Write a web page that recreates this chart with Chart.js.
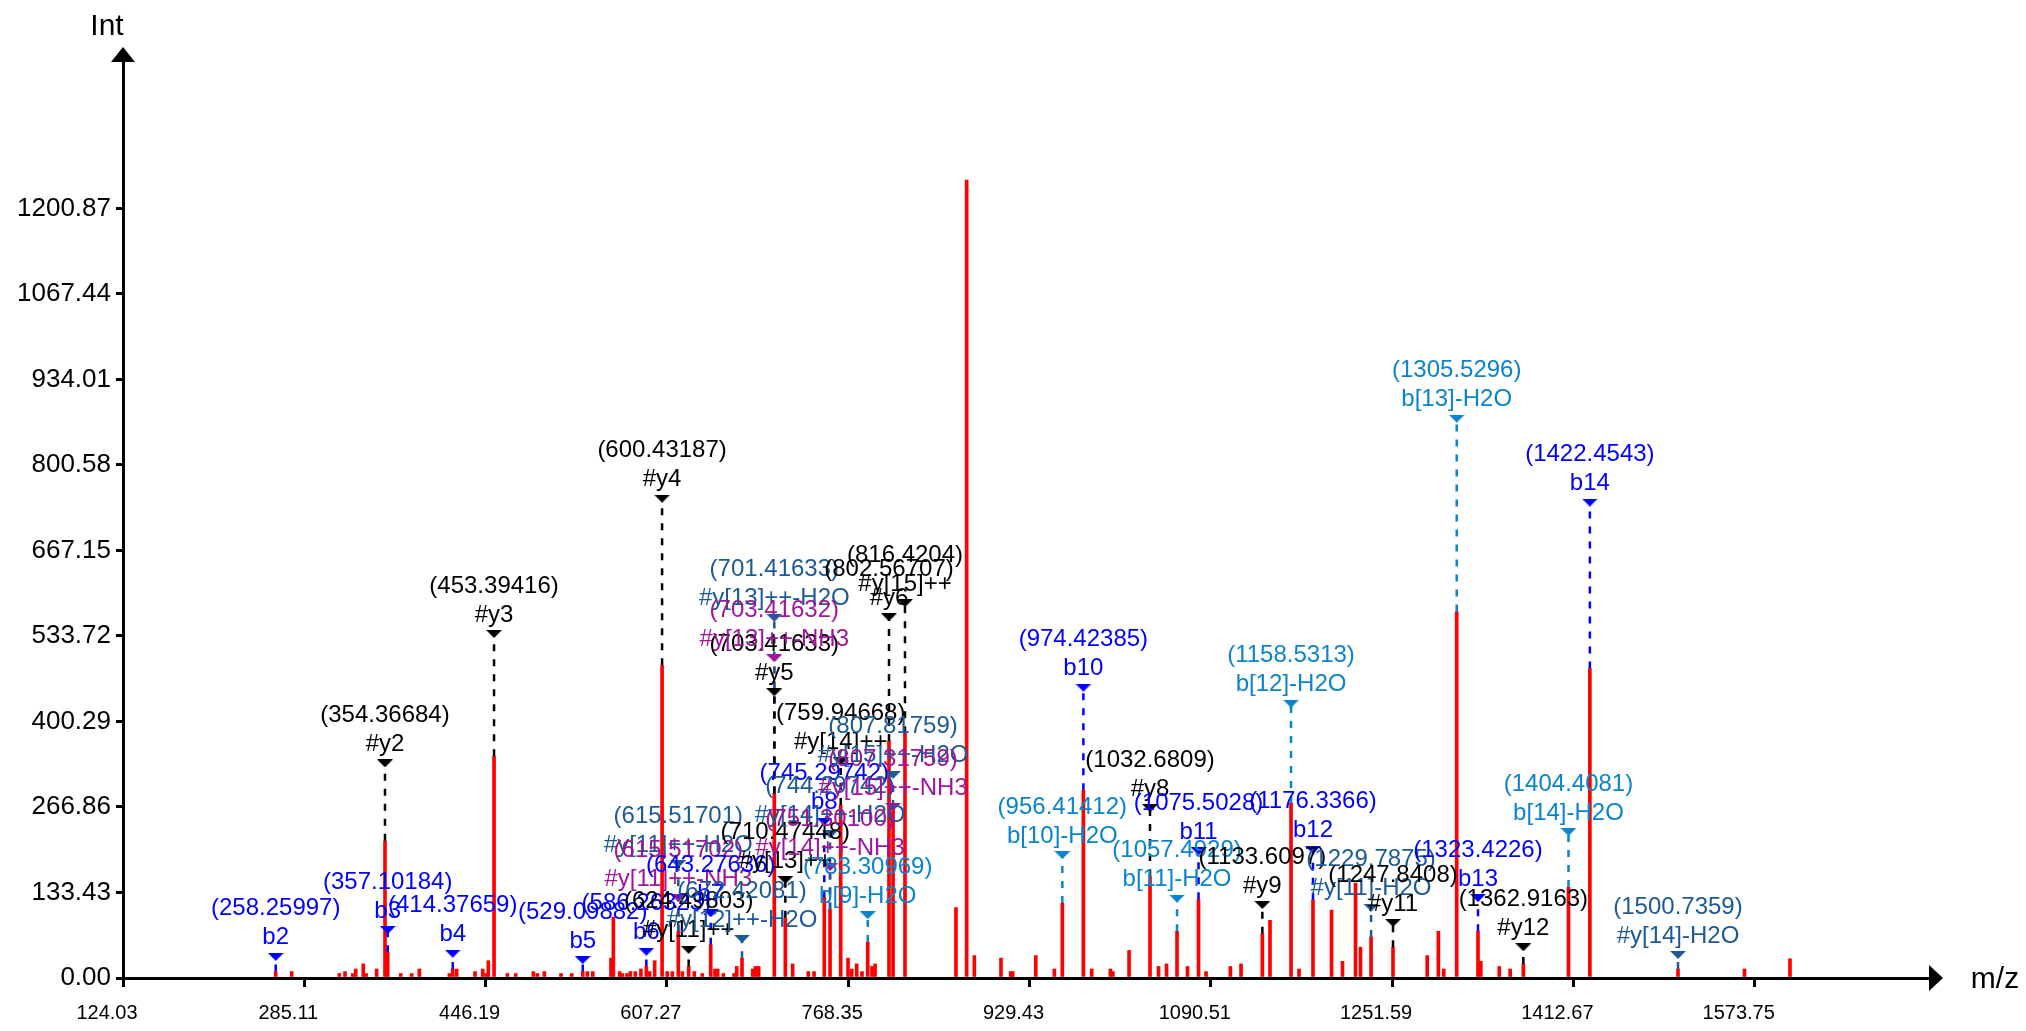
<!DOCTYPE html>
<html>
<head>
<meta charset="utf-8">
<script src="https://cdn.jsdelivr.net/npm/chart.js@4/dist/chart.umd.min.js"></script>
<style>
html, body { margin: 0; padding: 0; background: #fff; }
#wrap { width: 2026px; height: 1031px; }
</style>
</head>
<body>
<div id="wrap"><canvas id="spectrum" width="2026" height="1031"></canvas></div>
<script>
// peaks: m/z and intensity
const peakMz = [259.7, 273.9, 316.2, 321.3, 328.1, 330.8, 337.5, 340.0, 349.4, 356.8, 359.2, 370.8, 380.5, 387.3,
  414.0, 417.0, 420.5, 436.8, 443.6, 446.6, 448.6, 453.7, 465.5, 472.9, 488.6, 492.1, 498.4, 513.2, 522.7, 532.5,
  536.6, 541.4, 557.6, 559.7, 565.3, 567.7, 571.8, 574.8, 579.2, 584.2, 589.0, 591.9, 596.4, 603.0, 607.6, 612.1,
  617.4, 621.0, 626.6, 631.6, 638.7, 646.2, 650.0, 652.4, 657.4, 666.9, 669.3, 674.0, 683.5, 685.9, 688.8, 702.7,
  712.5, 719.0, 732.9, 738.0, 747.1, 752.2, 761.7, 768.2, 771.5, 775.9, 780.6, 785.7, 789.5, 792.2, 804.6, 808.2,
  818.8, 864.1, 873.6, 880.4, 904.1, 912.7, 914.5, 935.0, 951.5, 958.6, 977.3, 984.7, 1001.3, 1003.5, 1017.9,
  1036.5, 1044.1, 1051.2, 1060.5, 1069.8, 1079.6, 1086.3, 1107.9, 1117.4, 1136.3, 1143.1, 1161.8, 1168.9, 1181.3,
  1197.8, 1207.5, 1219.1, 1223.5, 1232.9, 1252.4, 1282.8, 1292.7, 1297.5, 1309.0, 1327.9, 1330.4, 1346.8, 1356.5,
  1368.2, 1408.3, 1427.3, 1505.6, 1564.7, 1605.1];
const peakInt = [10, 10, 7, 10, 7, 14, 22, 7, 14, 214, 40, 7, 7, 14,
  7, 14, 14, 10, 14, 7, 27, 346, 7, 7, 10, 7, 10, 7, 7, 10,
  10, 10, 31, 95, 10, 7, 7, 10, 10, 14, 18, 10, 27, 488, 10, 10,
  73, 10, 18, 10, 7, 52, 14, 14, 7, 7, 18, 31, 14, 18, 18, 288,
  94, 22, 10, 10, 126, 107, 270, 31, 14, 22, 10, 56, 18, 22, 370, 267,
  382, 110, 1245, 35, 31, 10, 10, 35, 14, 117, 293, 14, 14, 10, 43,
  159, 18, 22, 73, 18, 123, 10, 18, 22, 69, 90, 273, 14, 122,
  106, 26, 148, 48, 64, 48, 35, 73, 14, 572, 73, 26, 18, 14,
  22, 142, 483, 14, 14, 30];

const xTicks = [124.03, 285.11, 446.19, 607.27, 768.35, 929.43, 1090.51, 1251.59, 1412.67, 1573.75];
const yTicks = [0, 133.43, 266.86, 400.29, 533.72, 667.15, 800.58, 934.01, 1067.44, 1200.87];

// fragment labels: peak they point at, m/z text, ion name, colour key, marker height
const annPeak = [259.7, 359.2, 356.8, 417.0, 453.7, 532.5, 589.0, 603.0, 626.6, 617.4, 617.4, 646.2, 674.0,
  702.7, 702.7, 702.7, 712.5, 747.1, 752.2, 752.2, 761.7, 785.7, 804.6, 808.2, 808.2, 818.8,
  958.6, 977.3, 1036.5, 1060.5, 1079.6, 1136.3, 1161.8, 1181.3, 1232.9, 1252.4, 1309.0, 1327.9, 1368.2,
  1408.3, 1427.3, 1505.6];
const annMzText = ["(258.25997)", "(357.10184)", "(354.36684)", "(414.37659)", "(453.39416)", "(529.09882)",
  "(586.26323)", "(600.43187)", "(624.49803)", "(615.51701)", "(615.51702)", "(643.27636)", "(672.42081)",
  "(703.41633)", "(701.41633)", "(703.41632)", "(710.47448)", "(745.29742)", "(744.29742)", "(751.30100)",
  "(759.94668)", "(783.30969)", "(802.56707)", "(807.81759)", "(807.31759)", "(816.4204)",
  "(956.41412)", "(974.42385)", "(1032.6809)", "(1057.4929)", "(1075.5028)", "(1133.6097)", "(1158.5313)",
  "(1176.3366)", "(1229.7875)", "(1247.8408)", "(1305.5296)", "(1323.4226)", "(1362.9163)",
  "(1404.4081)", "(1422.4543)", "(1500.7359)"];
const annIon = ["b2", "b3", "#y2", "b4", "#y3", "b5", "b6", "#y4", "#y[11]++", "#y[11]++-H2O", "#y[11]++-NH3",
  "b7", "#y[12]++-H2O", "#y5", "#y[13]++-H2O", "#y[13]++-NH3", "#y[13]++", "b8", "#y[14]++-H2O",
  "#y[14]++-NH3", "#y[14]++", "b[9]-H2O", "#y6", "#y[15]++-H2O", "#y[15]++-NH3", "#y[15]++",
  "b[10]-H2O", "b10", "#y8", "b[11]-H2O", "b11", "#y9", "b[12]-H2O", "b12", "#y[11]-H2O", "#y11",
  "b[13]-H2O", "b13", "#y12", "b[14]-H2O", "b14", "#y[14]-H2O"];
const annColor = ["b", "b", "k", "b", "k", "b", "b", "k", "k", "db", "m", "b", "db",
  "k", "db", "m", "k", "b", "db", "m", "k", "lb", "k", "db", "m", "k",
  "lb", "b", "k", "lb", "b", "k", "lb", "b", "db", "k", "lb", "b", "k", "lb", "b", "db"];
const annMarker = [33, 75, 335, 38, 537, 28, 41, 748, 44, 178, 125, 101, 61,
  446, 562, 499, 153, 244, 224, 173, 338, 98, 563, 317, 267, 585,
  192, 453, 265, 124, 198, 114, 428, 200, 110, 86, 873, 125, 48, 228, 742, 36];

const ionColors = { k: "#000000", b: "#0000ff", lb: "#0a84cc", db: "#1b5a96", m: "#a0159e" };
const FONT = "'Liberation Sans', Arial, sans-serif";

function heightAt(mz) {
    var i = peakMz.indexOf(mz);
    return i >= 0 ? peakInt[i] : 0;
}

// little flat down-pointing triangle used as point style
function triangle(color) {
    var c = document.createElement("canvas");
    c.width = 16;
    c.height = 8;
    var g = c.getContext("2d");
    g.fillStyle = color;
    g.beginPath();
    g.moveTo(0, 0);
    g.lineTo(16, 0);
    g.lineTo(8, 8);
    g.closePath();
    g.fill();
    return c;
}

const datasets = [{
    type: "bar",
    label: "peaks",
    data: peakMz.map((m, i) => ({ x: m, y: peakInt[i] })),
    backgroundColor: "#ff0000",
    barThickness: 3,
    grouped: false,
    order: 3
}];

Object.keys(ionColors).forEach(function (key) {
    var lines = [];
    var marks = [];
    for (var i = 0; i < annPeak.length; i++) {
        if (annColor[i] !== key) continue;
        lines.push({ x: annPeak[i], y: heightAt(annPeak[i]) });
        lines.push({ x: annPeak[i], y: annMarker[i] });
        lines.push({ x: annPeak[i], y: null });
        marks.push({ x: annPeak[i], y: annMarker[i] });
    }
    datasets.push({
        type: "line",
        data: lines,
        borderColor: ionColors[key],
        borderWidth: 2.5,
        borderDash: [7, 8],
        pointRadius: 0,
        spanGaps: false,
        order: 2
    });
    datasets.push({
        type: "scatter",
        data: marks,
        pointStyle: triangle(ionColors[key]),
        pointRadius: 8,
        order: 1
    });
});

const labelPlugin = {
    id: "ionLabels",
    afterDatasetsDraw(chart) {
        const ctx = chart.ctx;
        const xs = chart.scales.x, ys = chart.scales.y;
        ctx.save();
        ctx.font = "24px " + FONT;
        ctx.textAlign = "center";
        ctx.textBaseline = "middle";
        for (var i = 0; i < annPeak.length; i++) {
            var px = xs.getPixelForValue(annPeak[i]);
            var py = ys.getPixelForValue(annMarker[i]);
            ctx.fillStyle = ionColors[annColor[i]];
            ctx.fillText(annIon[i], px, py - 19);
            ctx.fillText(annMzText[i], px, py - 48);
        }
        ctx.restore();
    },
    afterDraw(chart) {
        const ctx = chart.ctx;
        const a = chart.chartArea;
        ctx.save();
        ctx.fillStyle = "#000";
        // arrow heads on both axes
        ctx.beginPath();
        ctx.moveTo(a.left - 12, a.top + 1);
        ctx.lineTo(a.left + 12, a.top + 1);
        ctx.lineTo(a.left, a.top - 14);
        ctx.closePath();
        ctx.fill();
        ctx.beginPath();
        ctx.moveTo(a.right - 1, a.bottom - 13);
        ctx.lineTo(a.right - 1, a.bottom + 13);
        ctx.lineTo(a.right + 13, a.bottom);
        ctx.closePath();
        ctx.fill();
        ctx.font = "30px " + FONT;
        ctx.textAlign = "center";
        ctx.textBaseline = "middle";
        ctx.fillText("Int", a.left - 16, 27);
        ctx.fillText("m/z", 1995, a.bottom + 2);
        ctx.restore();
    }
};

const ctx = document.getElementById("spectrum").getContext("2d");
const chart = new Chart(ctx, {
    data: { datasets: datasets },
    options: {
        responsive: false,
        animation: false,
        events: [],
        layout: { padding: { top: 61, right: 96, left: 0, bottom: 0 } },
        plugins: { legend: { display: false }, tooltip: { enabled: false } },
        scales: {
            x: {
                type: "linear",
                offset: false,
                min: 124.03,
                max: 1729.5,
                afterBuildTicks: s => { s.ticks = xTicks.map(v => ({ value: v })); },
                afterFit: s => { s.height = 53; },
                grid: { offset: false, drawOnChartArea: false, drawTicks: true, tickLength: 9, color: "#000", lineWidth: 3 },
                border: { color: "#000", width: 3 },
                ticks: {
                    color: "#000",
                    font: { family: FONT, size: 20 },
                    labelOffset: -16,
                    padding: 14,
                    maxRotation: 0,
                    autoSkip: false,
                    callback: v => v.toFixed(2)
                }
            },
            y: {
                type: "linear",
                min: 0,
                max: 1431,
                afterBuildTicks: s => { s.ticks = yTicks.map(v => ({ value: v })); },
                afterFit: s => { s.width = 123; },
                grid: { drawOnChartArea: false, drawTicks: true, tickLength: 7, color: "#000", lineWidth: 3 },
                border: { color: "#000", width: 3 },
                ticks: {
                    color: "#000",
                    font: { family: FONT, size: 26 },
                    padding: 5,
                    autoSkip: false,
                    callback: v => v.toFixed(2)
                }
            }
        }
    },
    plugins: [labelPlugin]
});
</script>
</body>
</html>
